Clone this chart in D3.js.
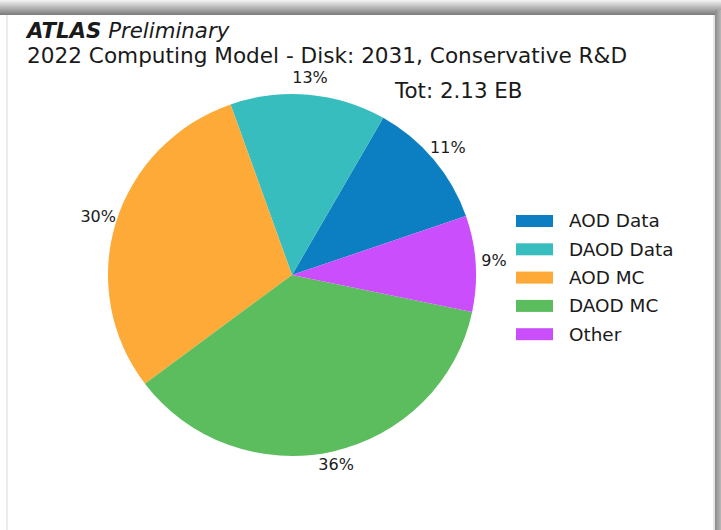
<!DOCTYPE html>
<html>
<head>
    <title>ATLAS Disk 2031</title>
    <script src="https://d3js.org/d3.v7.min.js"></script>
    <style>
        body {
            margin: 0;
            background-color: white;
            font-family: "DejaVu Sans", sans-serif;
        }
        svg text {
            fill: #1a1a1a;
        }
    </style>
</head>
<body>
    <div id="chart"></div>
    <script>
        // Chart data (disk volume, EB)
        const categories = ["AOD Data", "DAOD Data", "AOD MC", "DAOD MC", "Other"];
        const volumes = [0.244, 0.291, 0.635, 0.776, 0.182];
        const pctLabels = ["11%", "13%", "30%", "36%", "9%"];
        const colors = ["#0c7fc2", "#37bdbe", "#fdaa38", "#5cbd5e", "#cb4efc"];
        const total = "Tot: 2.13 EB";

        const width = 721, height = 530;
        const svg = d3.select("#chart").append("svg")
            .attr("width", width)
            .attr("height", height);

        // frame / shadow of the screenshot
        const defs = svg.append("defs");
        const gTop = defs.append("linearGradient").attr("id", "topShade")
            .attr("x1", 0).attr("y1", 0).attr("x2", 0).attr("y2", 1);
        gTop.append("stop").attr("offset", "0%").attr("stop-color", "#f4f4f4");
        gTop.append("stop").attr("offset", "100%").attr("stop-color", "#7a7a7a");
        const gRight = defs.append("linearGradient").attr("id", "rightShade")
            .attr("x1", 0).attr("y1", 0).attr("x2", 1).attr("y2", 0);
        gRight.append("stop").attr("offset", "0%").attr("stop-color", "#8a8a8a");
        gRight.append("stop").attr("offset", "100%").attr("stop-color", "#b8b8b8");

        svg.append("rect").attr("x", 0).attr("y", 0).attr("width", width).attr("height", 15)
            .attr("fill", "url(#topShade)");
        svg.append("rect").attr("x", 715).attr("y", 10).attr("width", 6).attr("height", height)
            .attr("fill", "url(#rightShade)");
        svg.append("rect").attr("x", 713).attr("y", 15).attr("width", 2).attr("height", height)
            .attr("fill", "#e6e6e6");
        svg.append("rect").attr("x", 6).attr("y", 15).attr("width", 2).attr("height", height)
            .attr("fill", "#ececec");

        // titles
        const t1 = svg.append("text").attr("x", 27).attr("y", 38)
            .style("font-size", "21.3px").style("font-style", "italic");
        t1.append("tspan").style("font-weight", "bold").text("ATLAS");
        t1.append("tspan").text(" Preliminary");

        svg.append("text").attr("x", 27).attr("y", 63)
            .style("font-size", "21.6px")
            .text("2022 Computing Model - Disk: 2031, Conservative R&D");

        svg.append("text").attr("x", 395).attr("y", 98)
            .style("font-size", "21.4px")
            .text(total);

        // pie (counter-clockwise from 19 deg, like matplotlib)
        const cx = 292, cy = 275, rx = 184, ry = 181;
        const startDeg = 19;
        const sum = d3.sum(volumes);
        const angle = d3.scaleLinear().domain([0, sum]).range([0, 360]);

        const slices = [];
        let acc = 0;
        volumes.forEach((v, i) => {
            const a0 = startDeg + angle(acc);
            acc += v;
            const a1 = startDeg + angle(acc);
            slices.push({ i, a0, a1 });
        });

        // convert math angle (ccw from 3 o'clock) to d3 angle (cw from 12 o'clock)
        const toD3 = deg => (90 - deg) * Math.PI / 180;
        const arc = d3.arc().innerRadius(0).outerRadius(ry);

        const pie = svg.append("g").attr("transform", `translate(${cx},${cy})`);
        pie.append("g")
            .attr("transform", `scale(${rx / ry},1)`)
            .selectAll("path")
            .data(slices)
            .enter()
            .append("path")
            .attr("d", d => arc({ startAngle: toD3(d.a1), endAngle: toD3(d.a0) }))
            .attr("fill", d => colors[d.i]);

        pie.selectAll("text.pct")
            .data(slices)
            .enter()
            .append("text")
            .attr("class", "pct")
            .attr("x", d => 1.1 * rx * Math.cos((d.a0 + d.a1) / 2 * Math.PI / 180))
            .attr("y", d => -2 - 1.085 * ry * Math.sin((d.a0 + d.a1) / 2 * Math.PI / 180))
            .attr("dy", "0.35em")
            .attr("text-anchor", "middle")
            .style("font-size", "16px")
            .text(d => pctLabels[d.i]);

        // legend
        const legend = svg.append("g").attr("transform", "translate(516,221)");
        const item = legend.selectAll("g")
            .data(categories)
            .enter()
            .append("g")
            .attr("transform", (d, i) => `translate(0,${i * 28.3})`);
        item.append("rect")
            .attr("x", 0).attr("y", -6)
            .attr("width", 37).attr("height", 12)
            .attr("fill", (d, i) => colors[i]);
        item.append("text")
            .attr("x", 53).attr("y", 0)
            .attr("dy", "0.35em")
            .style("font-size", "18.4px")
            .text(d => d);
    </script>
</body>
</html>
